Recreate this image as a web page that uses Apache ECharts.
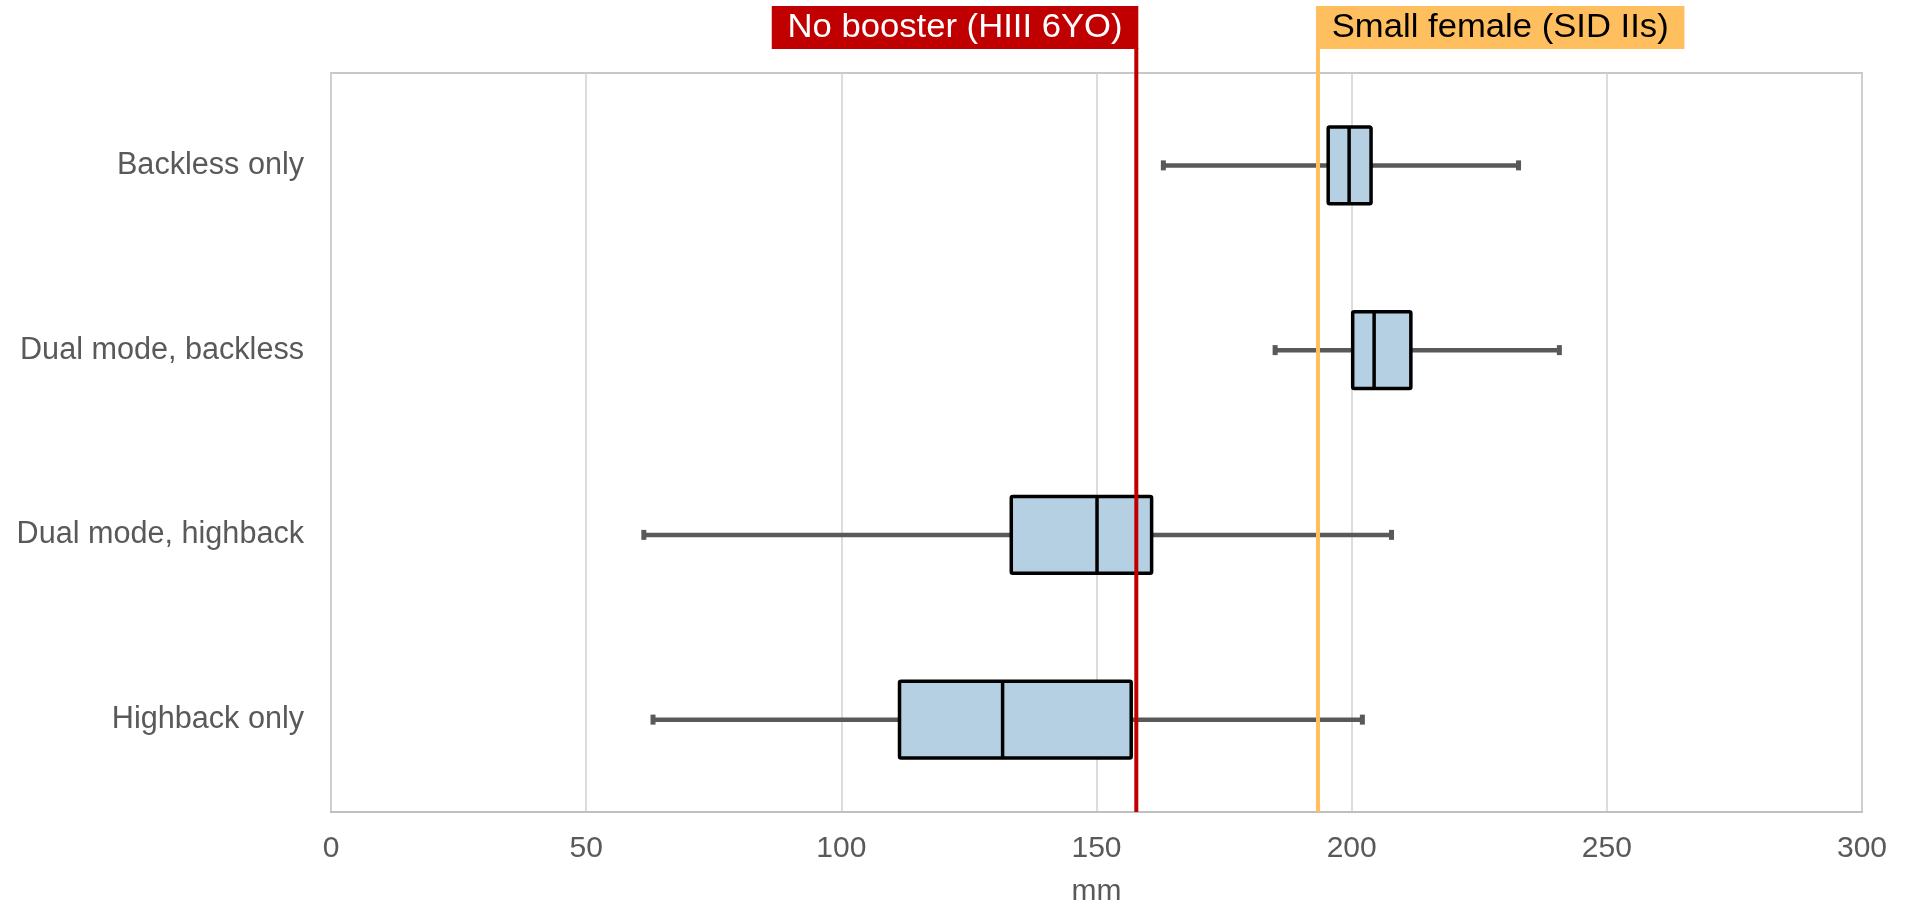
<!DOCTYPE html>
<html>
<head>
<meta charset="utf-8">
<script src="https://cdn.jsdelivr.net/npm/echarts@6/dist/echarts.min.js"></script>
<style>
html,body{margin:0;padding:0;background:#fff;}
#chart{width:1911px;height:912px;}
</style>
</head>
<body>
<div id="chart"></div>
<script>
const categories = ['Backless only', 'Dual mode, backless', 'Dual mode, highback', 'Highback only'];
const whiskerMin = [163.1, 185.0, 61.3, 63.1];
const q1 = [195.4, 200.2, 133.3, 111.4];
const median = [199.5, 204.4, 150.1, 131.6];
const q3 = [203.8, 211.6, 160.8, 156.8];
const whiskerMax = [232.7, 240.7, 207.8, 202.1];
const xTicks = [0, 50, 100, 150, 200, 250, 300];
const refValues = [157.8, 193.4];
const refLabels = ['No booster (HIII 6YO)', 'Small female (SID IIs)'];

const FONT = '"Liberation Sans", Arial, sans-serif';
const GRAY = '#595959';

const boxData = categories.map((c, i) => [i, whiskerMin[i], q1[i], median[i], q3[i], whiskerMax[i]]);
const refStyles = [
  {line: '#c00000', bg: '#c00000', fg: '#ffffff', align: 'right', dx: 2},
  {line: '#ffbf5f', bg: '#ffbf5f', fg: '#000000', align: 'left', dx: -2}
];

function renderBox(params, api) {
  const cat = api.value(0);
  const pMin = api.coord([api.value(1), cat]);
  const pQ1 = api.coord([api.value(2), cat]);
  const pMed = api.coord([api.value(3), cat]);
  const pQ3 = api.coord([api.value(4), cat]);
  const pMax = api.coord([api.value(5), cat]);
  const band = api.size([0, 1])[1];
  const h = band * 0.415;
  const y = pMed[1];
  const capH = 10, capW = 5;
  return {
    type: 'group',
    children: [
      {type: 'line', shape: {x1: pMin[0], y1: y, x2: pMax[0], y2: y},
       style: {stroke: GRAY, lineWidth: 4.5}},
      {type: 'rect', shape: {x: pMin[0] - capW / 2, y: y - capH / 2, width: capW, height: capH},
       style: {fill: GRAY}},
      {type: 'rect', shape: {x: pMax[0] - capW / 2, y: y - capH / 2, width: capW, height: capH},
       style: {fill: GRAY}},
      {type: 'rect', shape: {x: pQ1[0], y: y - h / 2, width: pQ3[0] - pQ1[0], height: h, r: 1.5},
       style: {fill: '#b4d0e2', stroke: '#000000', lineWidth: 3.5, lineJoin: 'round'}},
      {type: 'line', shape: {x1: pMed[0], y1: y - h / 2, x2: pMed[0], y2: y + h / 2},
       style: {stroke: '#000000', lineWidth: 3.5}}
    ]
  };
}

function renderRef(params, api) {
  const i = params.dataIndex;
  const st = refStyles[i];
  const cs = params.coordSys;
  const x = api.coord([api.value(0), 0])[0];
  const bottom = cs.y + cs.height;
  const labelTop = 6;
  const labelBottom = 48;
  return {
    type: 'group',
    children: [
      {type: 'line', shape: {x1: x, y1: bottom, x2: x, y2: labelBottom},
       style: {stroke: st.line, lineWidth: 4}},
      {type: 'text', x: x + st.dx, y: labelTop, scaleX: 1.05, scaleY: 1,
       style: {text: refLabels[i], x: 0, y: 0, align: st.align, verticalAlign: 'top',
               fontSize: 33, fontFamily: FONT, fill: st.fg, lineHeight: 33,
               backgroundColor: st.bg, padding: [5, 15, 5, 15]}}
    ]
  };
}

const chart = echarts.init(document.getElementById('chart'), null, {renderer: 'canvas'});
chart.setOption({
  animation: false,
  backgroundColor: '#ffffff',
  textStyle: {fontFamily: FONT},
  grid: {left: 331, right: 49, top: 73, bottom: 97, show: true,
         borderColor: '#c8c8c8', borderWidth: 2, backgroundColor: 'transparent'},
  xAxis: {
    type: 'value', min: xTicks[0], max: xTicks[xTicks.length - 1], interval: 50,
    name: 'mm', nameLocation: 'middle', nameGap: 65,
    nameTextStyle: {color: GRAY, fontSize: 30, fontFamily: FONT},
    axisLine: {show: true, lineStyle: {color: '#bfbfbf', width: 2}},
    axisTick: {show: false},
    axisLabel: {color: GRAY, fontSize: 30, fontFamily: FONT, margin: 22},
    splitLine: {show: true, lineStyle: {color: '#d0d0d0', width: 1.5}}
  },
  yAxis: {
    type: 'category', data: categories, inverse: true,
    axisLine: {show: false}, axisTick: {show: false},
    axisLabel: {color: GRAY, fontSize: 30.6, fontFamily: FONT, margin: 27},
    splitLine: {show: false}
  },
  series: [
    {type: 'custom', renderItem: renderBox, data: boxData, z: 3,
     encode: {x: [1, 2, 3, 4, 5], y: 0}},
    {type: 'custom', renderItem: renderRef, data: refValues.map(v => [v]), z: 5,
     encode: {x: 0}}
  ]
});
</script>
</body>
</html>
